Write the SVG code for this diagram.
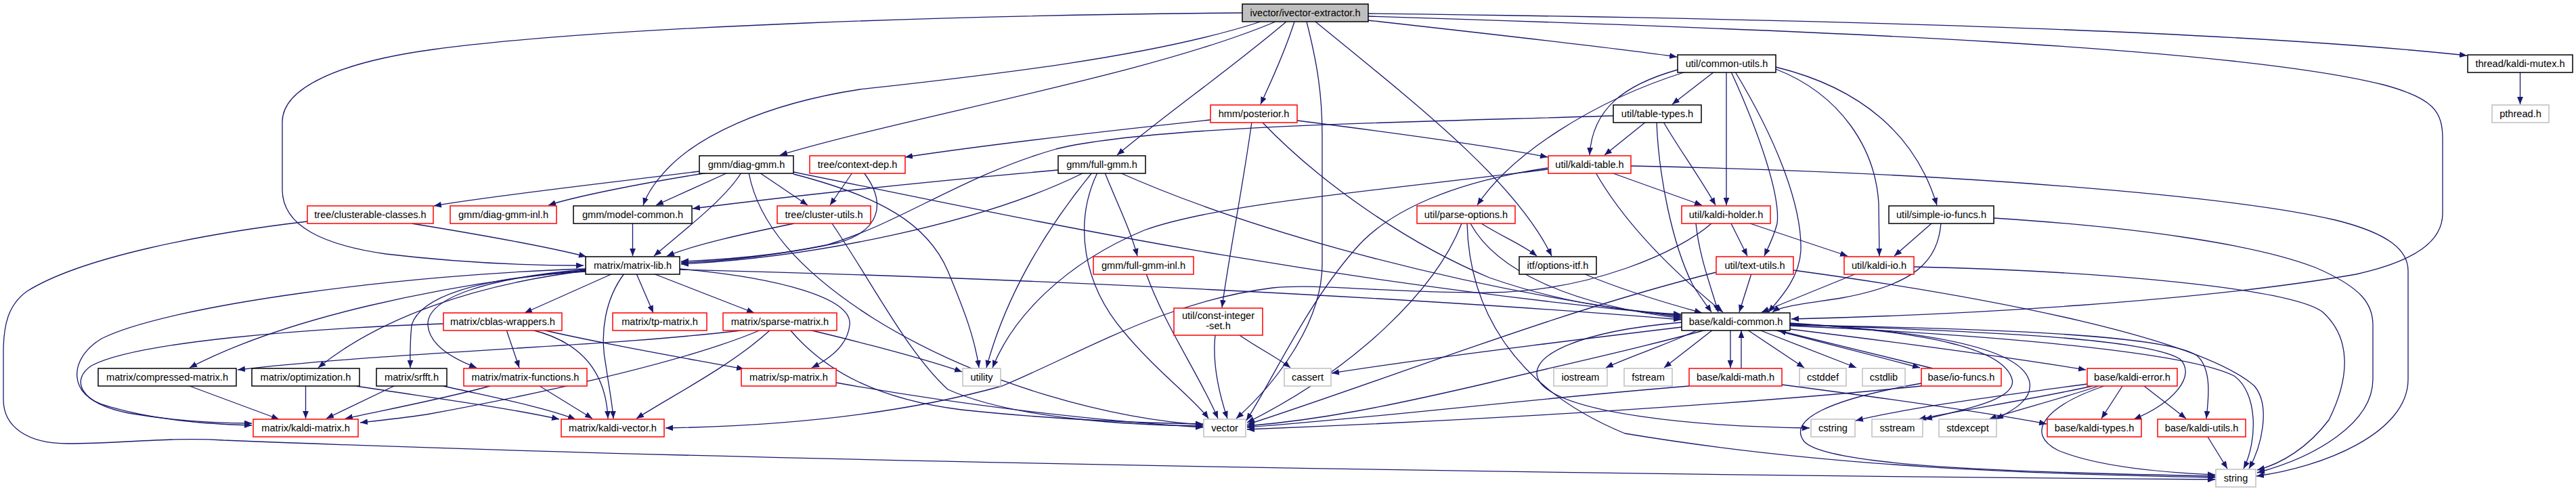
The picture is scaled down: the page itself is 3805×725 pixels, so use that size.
<svg xmlns="http://www.w3.org/2000/svg" width="3805" height="725" viewBox="0 0 3805 725">
<defs>
<marker id="a" viewBox="0 0 10 8" refX="10" refY="4" markerWidth="11" markerHeight="9" markerUnits="userSpaceOnUse" orient="auto"><path d="M0,0 L10,4 L0,8 z" fill="#191970"/></marker>
<style>
.e path{fill:none;stroke:#191970;stroke-width:1.3;marker-end:url(#a)}
rect{fill:#fff;stroke-width:1.5}
.k rect{stroke:#000}
.r rect{stroke:#ff0000}
.g rect{stroke:#bfbfbf}
.root rect{fill:#bfbfbf;stroke:#000}
text{font-family:"Liberation Sans",Arial,sans-serif;font-size:14.6px;text-anchor:middle;fill:#000}
</style>
</defs>
<rect x="0" y="0" width="3805" height="725" style="fill:#fff;stroke:none"/>
<g id="edges" class="e">
<path d="M1835,19 C1450,22 900,38 640,73 C500,92 417,130 417,180 L417,280 C417,335 480,362 570,375 C680,388 790,392 862,392"/>
<path d="M1862,32 C1700,85 1450,112 1270,132 C1120,155 1030,205 990,245 C970,265 957,283 950,303"/>
<path d="M1884,32 C1700,110 1350,170 1152,229"/>
<path d="M1900,32 C1820,100 1720,170 1650,229"/>
<path d="M1912,32 C1895,85 1875,125 1862,154"/>
<path d="M1930,32 C1946,95 1953,140 1953,200 L1953,390 C1953,480 1880,570 1826,618"/>
<path d="M1943,32 C2100,160 2240,270 2292,378"/>
<path d="M2021,30 C2200,50 2380,70 2477,84"/>
<path d="M2021,20 C2700,28 3300,45 3644,82"/>
<path d="M2021,24 C2700,45 3300,70 3520,125 C3595,145 3608,165 3608,205 L3608,315 C3608,355 3570,385 3480,405 C3250,445 2900,465 2646,471"/>
<path d="M3722.5,106 L3722.5,154"/>
<path d="M2532,106 L2470,154"/>
<path d="M2478,103 C2400,125 2352,160 2348,229"/>
<path d="M2490,106 C2350,150 2230,230 2182,303"/>
<path d="M2550,106 L2550,303"/>
<path d="M2557,106 C2600,200 2630,290 2625,330 C2620,350 2612,365 2606,378"/>
<path d="M2563,106 C2620,200 2662,300 2660,370 C2658,410 2630,440 2612,461"/>
<path d="M2623,102 C2720,140 2770,220 2775,300 L2776,378"/>
<path d="M2623,99 C2750,130 2830,200 2861,303"/>
<path d="M1788,177 C1620,195 1450,215 1337,232"/>
<path d="M1916,178 C2050,195 2200,215 2286,232"/>
<path d="M1849,180 C1835,280 1815,380 1805,454"/>
<path d="M1864,180 C1950,270 2080,360 2200,410 C2300,445 2400,460 2483,464"/>
<path d="M2431,180 L2370,229"/>
<path d="M2447,180 C2450,260 2470,360 2500,420 C2512,440 2522,452 2528,461"/>
<path d="M2457,180 C2480,220 2510,260 2534,303"/>
<path d="M2383,171 C2100,180 1700,185 1560,220 C1420,260 1330,330 1220,362 C1130,380 1060,386 1006,388"/>
<path d="M1033,253 C900,270 720,290 641,304"/>
<path d="M1046,255 C950,270 850,290 810,303"/>
<path d="M1075,255 L969,303"/>
<path d="M1095,255 C1070,295 1010,340 966,378"/>
<path d="M1122,255 L1193,303"/>
<path d="M1106,255 C1120,330 1180,400 1290,470 C1450,570 1650,620 1777,627"/>
<path d="M1172,257 C1300,290 1370,330 1400,400 C1425,460 1440,500 1446,543"/>
<path d="M1172,254 C1500,320 1900,410 2483,466"/>
<path d="M1259,255 L1226,303"/>
<path d="M1276,255 C1310,300 1300,340 1240,358 C1150,378 1060,384 1006,386"/>
<path d="M1563,251 C1350,270 1150,292 1023,308"/>
<path d="M1601,255 C1450,330 1200,380 1006,390"/>
<path d="M1613,255 C1560,320 1490,420 1457,543"/>
<path d="M1621,255 C1585,330 1600,420 1660,490 C1710,550 1765,590 1785,618"/>
<path d="M1632,255 C1650,300 1670,340 1680,378"/>
<path d="M1654,255 C1800,320 2100,420 2483,468"/>
<path d="M2380,255 L2514,303"/>
<path d="M2357,255 C2400,330 2470,400 2545,461"/>
<path d="M2286,248 C2150,268 2050,310 2000,370 C1930,450 1880,560 1841,621"/>
<path d="M2286,250 C2050,280 1800,300 1690,340 C1570,390 1495,470 1466,543"/>
<path d="M2409,245 C2900,255 3300,290 3450,325 C3530,345 3557,370 3557,400 L3557,560 C3557,640 3430,690 3333,703"/>
<path d="M608,330 C700,345 800,362 866,379"/>
<path d="M454,327 C300,345 120,380 40,430 C12,450 5,480 5,520 L5,590 C5,630 40,655 100,655 C180,655 250,645 330,650 C1200,685 2500,702 3272,708"/>
<path d="M934.5,330 L934.5,378"/>
<path d="M1173,330 C1100,345 1030,360 985,378"/>
<path d="M1229,330 C1290,420 1340,520 1400,575 C1500,620 1680,628 1777,629"/>
<path d="M2159,330 C2120,430 2000,545 1842,624"/>
<path d="M2167,330 C2170,450 2230,570 2400,640 C2700,690 3000,700 3272,705"/>
<path d="M2172,330 C2210,400 2320,450 2483,470"/>
<path d="M2188,330 C2220,350 2250,362 2270,378"/>
<path d="M2557,330 L2581,378"/>
<path d="M2585,330 L2729,378"/>
<path d="M2528,330 C2480,372 2350,430 2200,432 C2050,433 1950,418 1880,425 C1720,445 1600,520 1480,570 C1300,620 1100,630 983,632"/>
<path d="M2505,330 C2510,380 2528,425 2538,461"/>
<path d="M2853,330 L2798,378"/>
<path d="M2867,330 C2862,385 2830,420 2720,440 C2670,448 2630,452 2618,461"/>
<path d="M2945,322 C3150,335 3330,360 3420,395 C3490,425 3505,450 3505,480 L3505,560 C3505,625 3420,675 3334,698"/>
<path d="M905,404 L775,462"/>
<path d="M940,404 L965,462"/>
<path d="M965,404 L1114,462"/>
<path d="M922,404 C895,440 885,490 895,540 C900,575 905,600 906,618"/>
<path d="M1004,397 C1150,410 1260,440 1255,480 C1252,510 1225,530 1199,543"/>
<path d="M1004,398 C1500,410 2100,440 2483,472"/>
<path d="M865,398 C720,410 630,440 632,480 C634,510 670,530 704,543"/>
<path d="M865,399 C650,420 420,470 280,543"/>
<path d="M865,400 C700,420 560,470 470,543"/>
<path d="M865,401 C700,410 620,440 608,480 C605,510 606,530 606,543"/>
<path d="M865,397 C600,405 250,450 150,500 C100,530 100,585 160,600 C230,620 300,626 372,628"/>
<path d="M655,478 C450,485 200,505 135,540 C105,560 115,595 190,610 C260,622 320,625 372,625"/>
<path d="M748,487 L767,543"/>
<path d="M785,487 C860,505 895,550 898,618"/>
<path d="M801,487 C900,510 1020,530 1099,545"/>
<path d="M1103,487 C900,512 600,518 351,546"/>
<path d="M1124,487 C1000,540 750,590 630,612 C590,618 560,621 532,624"/>
<path d="M1138,487 C1080,540 1000,580 940,618"/>
<path d="M1167,487 C1220,550 1300,590 1420,605 C1560,620 1700,625 1777,626"/>
<path d="M1195,487 C1270,505 1360,528 1421,549"/>
<path d="M724,570 C650,590 570,605 510,618"/>
<path d="M797,570 L875,618"/>
<path d="M280,570 L412,619"/>
<path d="M451.5,570 L451.5,618"/>
<path d="M526,570 C620,585 740,600 826,619"/>
<path d="M582,570 L482,618"/>
<path d="M655,570 C720,585 800,600 850,619"/>
<path d="M1235,565 C1400,595 1600,620 1777,631"/>
<path d="M1693,404 C1720,480 1775,560 1799,618"/>
<path d="M1795,495 C1790,540 1802,585 1813,618"/>
<path d="M1831,495 C1860,515 1890,530 1906,543"/>
<path d="M2339,404 C2400,430 2470,450 2514,462"/>
<path d="M2587,404 L2569,461"/>
<path d="M2535,402 C2300,460 2050,560 1842,627"/>
<path d="M2649,399 C2950,440 3250,500 3330,570 C3355,600 3340,660 3322,692"/>
<path d="M2742,404 L2602,461"/>
<path d="M2827,394 C3100,400 3380,425 3430,460 C3475,500 3470,560 3440,620 C3410,660 3370,685 3334,694"/>
<path d="M2484,483 C2300,505 2100,530 1967,551"/>
<path d="M2508,487 C2460,510 2410,525 2372,543"/>
<path d="M2530,487 L2458,543"/>
<path d="M2556,487 L2556,543"/>
<path d="M2572,544 L2572,488"/>
<path d="M2581,487 L2665,543"/>
<path d="M2598,487 L2742,543"/>
<path d="M2620,487 L2836,543"/>
<path d="M2855,544 L2627,488"/>
<path d="M2644,486 C2800,505 2950,525 3081,546"/>
<path d="M2520,487 C2400,520 2300,540 2200,565 C2050,600 1950,620 1842,629"/>
<path d="M2484,476 C2320,490 2250,530 2275,565 C2310,610 2500,630 2673,632"/>
<path d="M2644,477 C2850,490 2960,515 2972,560 C2980,590 2900,605 2843,619"/>
<path d="M2644,478 C2880,490 2990,520 2998,565 C3002,590 2975,605 2948,619"/>
<path d="M2644,479 C2950,490 3170,500 3220,530 C3245,555 3210,595 3152,619"/>
<path d="M2644,480 C2950,485 3200,495 3245,525 C3268,545 3262,590 3259,618"/>
<path d="M2644,481 C2950,495 3230,520 3300,555 C3335,580 3335,650 3314,692"/>
<path d="M2632,568 C2800,590 2950,612 3023,626"/>
<path d="M2495,570 C2250,590 2050,615 1842,631"/>
<path d="M2838,570 C2600,595 2200,620 1842,634"/>
<path d="M2838,566 C2700,590 2640,620 2665,652 C2700,690 3000,698 3272,703"/>
<path d="M3083,567 C2950,585 2830,600 2741,621"/>
<path d="M3091,570 C3000,590 2900,605 2834,619"/>
<path d="M3100,570 C3040,590 2980,605 2938,619"/>
<path d="M3135,570 L3104,618"/>
<path d="M3167,570 L3229,618"/>
<path d="M3108,570 C3020,600 2990,640 3040,665 C3100,690 3200,698 3272,701"/>
<path d="M3261,645 L3290,692"/>
</g>
<g id="n-ivector-extractor" class="root"><rect x="1835" y="6" width="186" height="26"/><text x="1928" y="23.5">ivector/ivector-extractor.h</text></g>
<g id="n-common-utils" class="k"><rect x="2478" y="81" width="145" height="26"/><text x="2550.5" y="98.5">util/common-utils.h</text></g>
<g id="n-kaldi-mutex" class="k"><rect x="3645" y="81" width="155" height="26"/><text x="3722.5" y="98.5">thread/kaldi-mutex.h</text></g>
<g id="n-pthread" class="g"><rect x="3681" y="155" width="84" height="26"/><text x="3723" y="172.5">pthread.h</text></g>
<g id="n-posterior" class="r"><rect x="1788" y="155" width="128" height="26"/><text x="1852" y="172.5">hmm/posterior.h</text></g>
<g id="n-table-types" class="k"><rect x="2383" y="155" width="130" height="26"/><text x="2448" y="172.5">util/table-types.h</text></g>
<g id="n-diag-gmm" class="k"><rect x="1033" y="230" width="139" height="26"/><text x="1102.5" y="247.5">gmm/diag-gmm.h</text></g>
<g id="n-context-dep" class="r"><rect x="1196" y="230" width="141" height="26"/><text x="1266.5" y="247.5">tree/context-dep.h</text></g>
<g id="n-full-gmm" class="k"><rect x="1563" y="230" width="129" height="26"/><text x="1627.5" y="247.5">gmm/full-gmm.h</text></g>
<g id="n-kaldi-table" class="r"><rect x="2287" y="230" width="122" height="26"/><text x="2348" y="247.5">util/kaldi-table.h</text></g>
<g id="n-clusterable-classes" class="r"><rect x="454" y="304" width="186" height="26"/><text x="547" y="321.5">tree/clusterable-classes.h</text></g>
<g id="n-diag-gmm-inl" class="r"><rect x="665" y="304" width="157" height="26"/><text x="743.5" y="321.5">gmm/diag-gmm-inl.h</text></g>
<g id="n-model-common" class="k"><rect x="847" y="304" width="175" height="26"/><text x="934.5" y="321.5">gmm/model-common.h</text></g>
<g id="n-cluster-utils" class="r"><rect x="1148" y="304" width="138" height="26"/><text x="1217" y="321.5">tree/cluster-utils.h</text></g>
<g id="n-parse-options" class="r"><rect x="2093" y="304" width="145" height="26"/><text x="2165.5" y="321.5">util/parse-options.h</text></g>
<g id="n-kaldi-holder" class="r"><rect x="2484" y="304" width="131" height="26"/><text x="2549.5" y="321.5">util/kaldi-holder.h</text></g>
<g id="n-simple-io-funcs" class="k"><rect x="2790" y="304" width="155" height="26"/><text x="2867.5" y="321.5">util/simple-io-funcs.h</text></g>
<g id="n-matrix-lib" class="k"><rect x="865" y="379" width="139" height="26"/><text x="934.5" y="396.5">matrix/matrix-lib.h</text></g>
<g id="n-full-gmm-inl" class="r"><rect x="1615" y="379" width="148" height="26"/><text x="1689" y="396.5">gmm/full-gmm-inl.h</text></g>
<g id="n-options-itf" class="k"><rect x="2244" y="379" width="114" height="26"/><text x="2301" y="396.5">itf/options-itf.h</text></g>
<g id="n-text-utils" class="r"><rect x="2535" y="379" width="114" height="26"/><text x="2592" y="396.5">util/text-utils.h</text></g>
<g id="n-kaldi-io" class="r"><rect x="2724" y="379" width="103" height="26"/><text x="2775.5" y="396.5">util/kaldi-io.h</text></g>
<g id="n-const-integer-set" class="r"><rect x="1734" y="455" width="131" height="40"/><text x="1799.5" y="471">util/const-integer</text><text x="1799.5" y="486">-set.h</text></g>
<g id="n-cblas-wrappers" class="r"><rect x="655" y="462" width="175" height="26"/><text x="742.5" y="479.5">matrix/cblas-wrappers.h</text></g>
<g id="n-tp-matrix" class="r"><rect x="905" y="462" width="139" height="26"/><text x="974.5" y="479.5">matrix/tp-matrix.h</text></g>
<g id="n-sparse-matrix" class="r"><rect x="1068" y="462" width="168" height="26"/><text x="1152" y="479.5">matrix/sparse-matrix.h</text></g>
<g id="n-kaldi-common" class="k"><rect x="2484" y="462" width="160" height="26"/><text x="2564" y="479.5">base/kaldi-common.h</text></g>
<g id="n-compressed-matrix" class="k"><rect x="145" y="544" width="204" height="26"/><text x="247" y="561.5">matrix/compressed-matrix.h</text></g>
<g id="n-optimization" class="k"><rect x="372" y="544" width="159" height="26"/><text x="451.5" y="561.5">matrix/optimization.h</text></g>
<g id="n-srfft" class="k"><rect x="556" y="544" width="104" height="26"/><text x="608" y="561.5">matrix/srfft.h</text></g>
<g id="n-matrix-functions" class="r"><rect x="685" y="544" width="182" height="26"/><text x="776" y="561.5">matrix/matrix-functions.h</text></g>
<g id="n-sp-matrix" class="r"><rect x="1095" y="544" width="140" height="26"/><text x="1165" y="561.5">matrix/sp-matrix.h</text></g>
<g id="n-utility" class="g"><rect x="1422" y="544" width="56" height="26"/><text x="1450" y="561.5">utility</text></g>
<g id="n-cassert" class="g"><rect x="1897" y="544" width="69" height="26"/><text x="1931.5" y="561.5">cassert</text></g>
<g id="n-iostream" class="g"><rect x="2295" y="544" width="79" height="26"/><text x="2334.5" y="561.5">iostream</text></g>
<g id="n-fstream" class="g"><rect x="2399" y="544" width="71" height="26"/><text x="2434.5" y="561.5">fstream</text></g>
<g id="n-kaldi-math" class="r"><rect x="2495" y="544" width="137" height="26"/><text x="2563.5" y="561.5">base/kaldi-math.h</text></g>
<g id="n-cstddef" class="g"><rect x="2658" y="544" width="69" height="26"/><text x="2692.5" y="561.5">cstddef</text></g>
<g id="n-cstdlib" class="g"><rect x="2751" y="544" width="63" height="26"/><text x="2782.5" y="561.5">cstdlib</text></g>
<g id="n-io-funcs" class="r"><rect x="2838" y="544" width="118" height="26"/><text x="2897" y="561.5">base/io-funcs.h</text></g>
<g id="n-kaldi-error" class="r"><rect x="3083" y="544" width="133" height="26"/><text x="3149.5" y="561.5">base/kaldi-error.h</text></g>
<g id="n-kaldi-matrix" class="r"><rect x="374" y="619" width="155" height="26"/><text x="451.5" y="636.5">matrix/kaldi-matrix.h</text></g>
<g id="n-kaldi-vector" class="r"><rect x="829" y="619" width="152" height="26"/><text x="905" y="636.5">matrix/kaldi-vector.h</text></g>
<g id="n-vector" class="g"><rect x="1778" y="619" width="62" height="26"/><text x="1809" y="636.5">vector</text></g>
<g id="n-cstring" class="g"><rect x="2675" y="619" width="65" height="26"/><text x="2707.5" y="636.5">cstring</text></g>
<g id="n-sstream" class="g"><rect x="2765" y="619" width="75" height="26"/><text x="2802.5" y="636.5">sstream</text></g>
<g id="n-stdexcept" class="g"><rect x="2864" y="619" width="85" height="26"/><text x="2906.5" y="636.5">stdexcept</text></g>
<g id="n-kaldi-types" class="r"><rect x="3024" y="619" width="139" height="26"/><text x="3093.5" y="636.5">base/kaldi-types.h</text></g>
<g id="n-kaldi-utils" class="r"><rect x="3187" y="619" width="130" height="26"/><text x="3252" y="636.5">base/kaldi-utils.h</text></g>
<g id="n-string" class="g"><rect x="3273" y="693" width="59" height="26"/><text x="3302.5" y="710.5">string</text></g>
</svg>
